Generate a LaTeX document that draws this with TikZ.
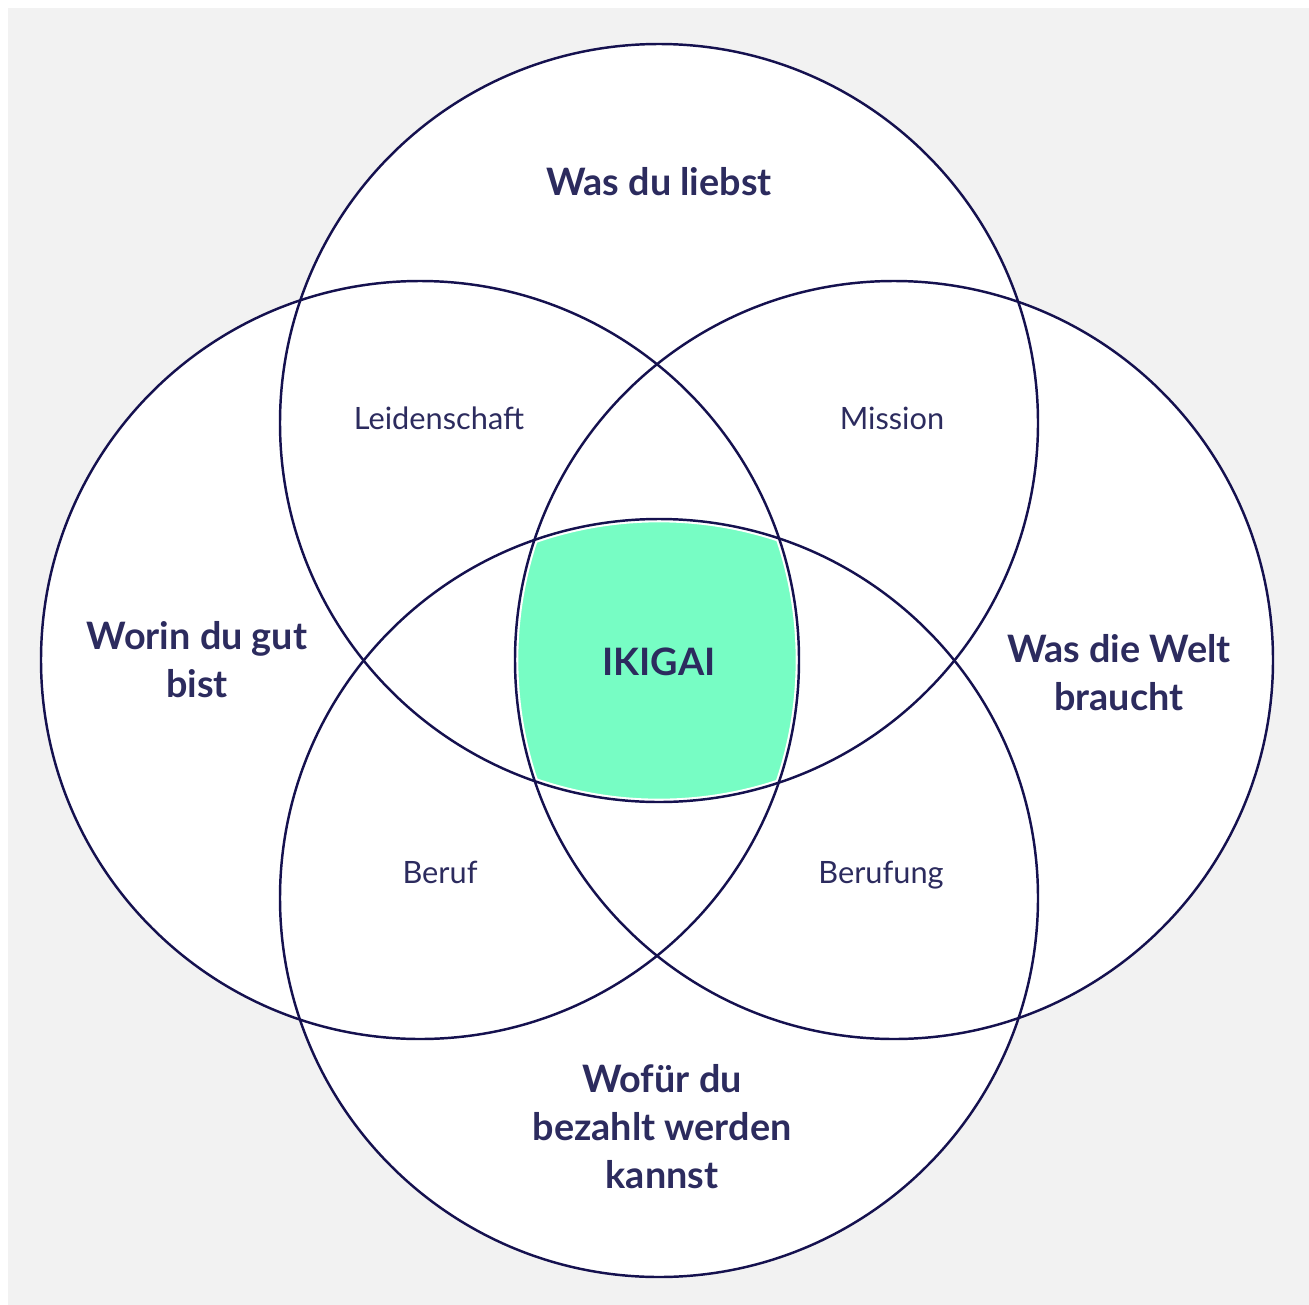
\documentclass[tikz,border=0pt]{standalone}
\usepackage{fontspec}
\setmainfont{Lato}
\usetikzlibrary{positioning}
\definecolor{ink}{HTML}{15114F}
\definecolor{textnavy}{HTML}{2C2B5E}
\definecolor{mint}{HTML}{77FDC4}
\definecolor{paper}{HTML}{F2F2F2}

\begin{document}
\begin{tikzpicture}[
    x=0.02cm, y=-0.02cm,
    ring/.style={draw=ink, line width=1.4pt},
    head/.style={font=\fontsize{21.5}{27.3}\selectfont\bfseries, text=textnavy, align=center},
    zone/.style={font=\fontsize{17.5}{20}\selectfont, text=textnavy, text height=1.5ex, text depth=0.4ex},
]
    \useasboundingbox (0,0) rectangle (1309,1305);
    \fill[paper] (8,8) rectangle (1309,1305);

    % Circle centres
    \coordinate (love) at (659,423);
    \coordinate (good) at (420,660);
    \coordinate (world) at (894,660);
    \coordinate (paid) at (659,898);

    % White discs
    \foreach \c in {love, good, world, paid}
        \fill[white] (\c) circle (379);

    % Ikigai area
    \begin{scope}
        \clip (love) circle (379);
        \clip (good) circle (379);
        \clip (world) circle (379);
        \fill[mint] (paid) circle (379);
        \foreach \c in {love, good, world, paid}
            \draw[white, line width=3.8pt] (\c) circle (379);
    \end{scope}

    % Outlines
    \foreach \c in {love, good, world, paid}
        \draw[ring] (\c) circle (379);

    % Labels
    \node[head] (lovelbl) at (659,182) {Was du liebst};
    \node[head] (goodlbl) at (197,660) {Worin du gut\\bist};
    \node[head] (worldlbl) at (1119,673) {Was die Welt\\braucht};
    \node[head] (paidlbl) at (662,1127) {Wofür du\\bezahlt werden\\kannst};
    \node[head] (ikigai) at (659,662) {IKIGAI};

    \node[zone] (passion) at (439,425) {Leidenschaft};
    \node[zone] (mission) at (892,425) {Mission};
    \node[zone] (job) at (440,879) {Beruf};
    \node[zone] (vocation) at (881,879) {Berufung};
\end{tikzpicture}
\end{document}
